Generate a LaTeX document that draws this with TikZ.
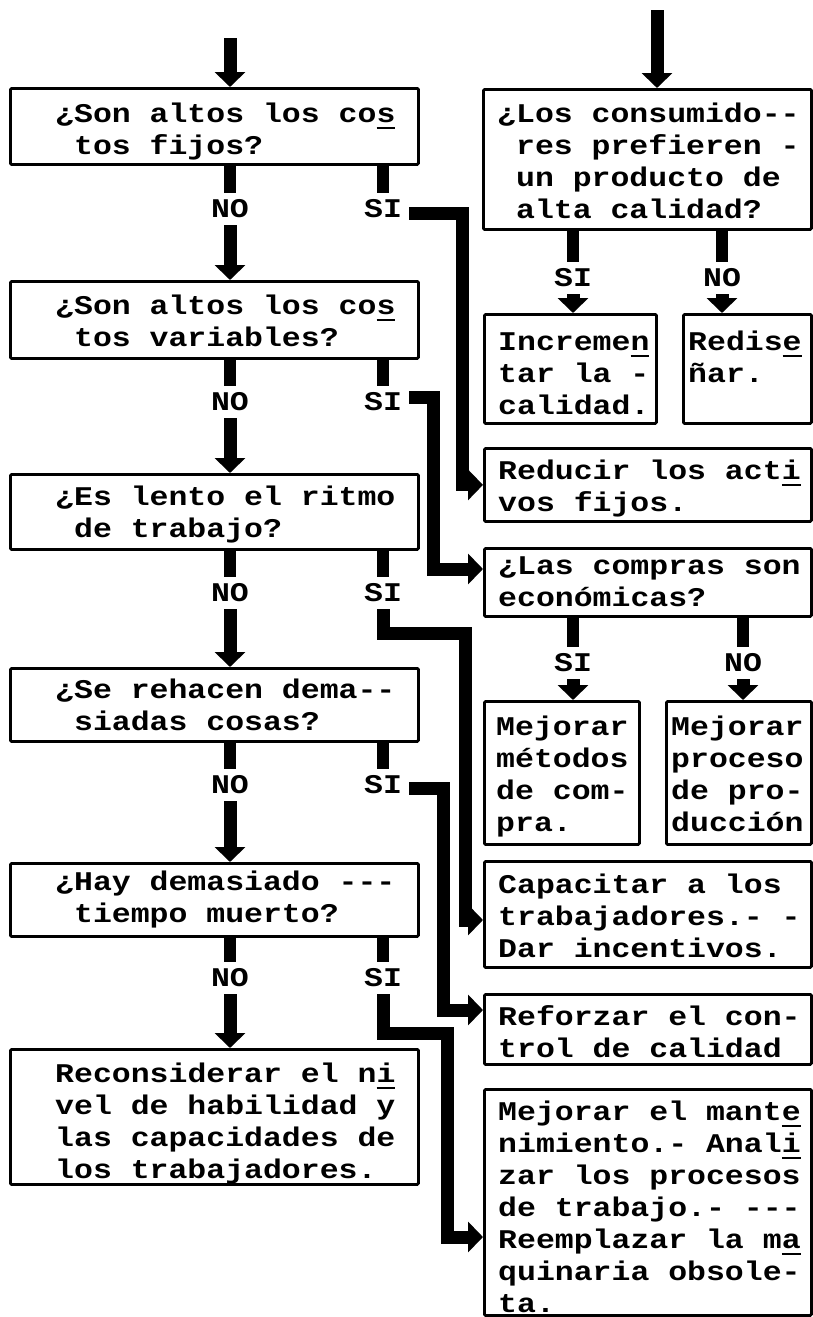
\documentclass[tikz,border=0pt]{standalone}
\usepackage{fontspec}
\newfontfamily\tw{Liberation Mono}[FakeStretch=1.1667]
\usetikzlibrary{arrows.meta,calc}
\newcommand\hyul[1]{\rlap{\rule[-7pt]{18.9pt}{2.5pt}}#1}
\newcommand\ind{\hspace*{18.9pt}}
\newcommand\sw{\hspace*{18.9pt}}
\newcommand\twfont{\tw\bfseries\fontsize{27}{32}\selectfont\hyphenpenalty=10000\relax}
\begin{document}
\begin{tikzpicture}[x=1pt,y=-1pt,
  box/.style={draw=black,line width=2.8pt,inner sep=0pt,anchor=north west,rounded corners=1.2pt},
  txt/.style={font=\twfont,anchor=base west,inner sep=0pt,text width=380pt,align=left},
  lab/.style={font=\twfont,inner xsep=7pt,inner ysep=7pt},
  conn/.style={line width=13pt,line join=miter,-{Triangle[width=30pt,length=15pt]}},
  stub/.style={line width=12pt,line cap=butt}]
\useasboundingbox (0,0) rectangle (813,1317);
\path[fill=white] (0,0) rectangle (813,1317);
% left boxes
\node[box,minimum width=408pt,minimum height=76pt] (L1) at (9,87) {};
\node[box,minimum width=408pt,minimum height=77pt] (L2) at (9,280) {};
\node[box,minimum width=408pt,minimum height=75pt] (L3) at (9,473) {};
\node[box,minimum width=408pt,minimum height=73pt] (L4) at (9,667) {};
\node[box,minimum width=408pt,minimum height=73pt] (L5) at (9,862) {};
\node[box,minimum width=408pt,minimum height=135pt] (L6) at (9,1048) {};
% right boxes
\node[box,minimum width=328pt,minimum height=140pt] (R1) at (482,88) {};
\node[box,minimum width=172pt,minimum height=109pt] (R2a) at (483,313) {};
\node[box,minimum width=128pt,minimum height=109pt] (R2b) at (682,313) {};
\node[box,minimum width=327pt,minimum height=73pt] (R3) at (483,447) {};
\node[box,minimum width=327pt,minimum height=68pt] (R4) at (483,547) {};
\node[box,minimum width=155pt,minimum height=143pt] (R5a) at (483,700) {};
\node[box,minimum width=145pt,minimum height=143pt] (R5b) at (665,700) {};
\node[box,minimum width=327pt,minimum height=106pt] (R6) at (483,860) {};
\node[box,minimum width=327pt,minimum height=70pt] (R7) at (483,993) {};
\node[box,minimum width=327pt,minimum height=226pt] (R8) at (483,1088) {};
% texts
\node[txt] (L1t) at (55,122) {¿Son\sw altos\sw los\sw co\hyul{s}\\\ind tos\sw fijos?};
\node[txt] (L2t) at (55,314) {¿Son\sw altos\sw los\sw co\hyul{s}\\\ind tos\sw variables?};
\node[txt] (L3t) at (55,505) {¿Es\sw lento\sw el\sw ritmo\\\ind de\sw trabajo?};
\node[txt] (L4t) at (55,698) {¿Se\sw rehacen\sw dema-{}-\\\ind siadas\sw cosas?};
\node[txt] (L5t) at (55,890) {¿Hay\sw demasiado\sw -{}-{}-\\\ind tiempo\sw muerto?};
\node[txt] (L6t) at (55,1082) {Reconsiderar\sw el\sw n\hyul{i}\\vel\sw de\sw habilidad\sw y\\las\sw capacidades\sw de\\los\sw trabajadores.};
\node[txt] (R1t) at (497,122) {¿Los\sw consumido-{}-\\\ind res\sw prefieren\sw -\\\ind un\sw producto\sw de\\\ind alta\sw calidad?};
\node[txt] (R2at) at (498,350) {Increme\hyul{n}\\tar\sw la\sw -\\calidad.};
\node[txt] (R2bt) at (688,350) {Redis\hyul{e}\\ñar.};
\node[txt] (R3t) at (498,479) {Reducir\sw los\sw act\hyul{i}\\vos\sw fijos.};
\node[txt] (R4t) at (498,574) {¿Las\sw compras\sw son\\económicas?};
\node[txt] (R5at) at (496,735) {Mejorar\\métodos\\de\sw com-\\pra.};
\node[txt] (R5bt) at (671,735) {Mejorar\\proceso\\de\sw pro-\\ducción};
\node[txt] (R6t) at (498,893) {Capacitar\sw a\sw los\\trabajadores.-\sw -\\Dar\sw incentivos.};
\node[txt] (R7t) at (498,1025) {Reforzar\sw el\sw con-\\trol\sw de\sw calidad};
\node[txt] (R8t) at (498,1120) {Mejorar\sw el\sw mant\hyul{e}\\nimiento.-\sw Anal\hyul{i}\\zar\sw los\sw procesos\\de\sw trabajo.-\sw -{}-{}-\\Reemplazar\sw la\sw m\hyul{a}\\quinaria\sw obsole-\\ta.};
% labels
\node[lab] (NO1) at (230,209) {NO};
\node[lab] (SI1) at (383,209) {SI};
\node[lab] (NO2) at (230,402) {NO};
\node[lab] (SI2) at (383,402) {SI};
\node[lab] (NO3) at (230,593) {NO};
\node[lab] (SI3) at (383,593) {SI};
\node[lab] (NO4) at (230,785) {NO};
\node[lab] (SI4) at (383,785) {SI};
\node[lab] (NO5) at (230,978) {NO};
\node[lab] (SI5) at (383,978) {SI};
\node[lab] (RSI1) at (573,278) {SI};
\node[lab] (RNO1) at (722,278) {NO};
\node[lab] (RSI2) at (573,663) {SI};
\node[lab] (RNO2) at (743,663) {NO};
% top arrows
\coordinate (t1) at (230,38);
\coordinate (t2) at (657,10);
\draw[conn] (t1) -- (t1 |- L1.north);
\draw[conn] (t2) -- (t2 |- R1.north);
% stubs
\foreach \b/\n/\s in {L1/NO1/SI1,L2/NO2/SI2,L3/NO3/SI3,L4/NO4/SI4,L5/NO5/SI5,R1/RSI1/RNO1,R4/RSI2/RNO2}{
  \draw[stub] (\b.south -| \n) -- (\n.north);
  \draw[stub] (\b.south -| \s) -- (\s.north);
}
% NO chain
\draw[conn] (NO1.south) -- (NO1.south |- L2.north);
\draw[conn] (NO2.south) -- (NO2.south |- L3.north);
\draw[conn] (NO3.south) -- (NO3.south |- L4.north);
\draw[conn] (NO4.south) -- (NO4.south |- L5.north);
\draw[conn] (NO5.south) -- (NO5.south |- L6.north);
\draw[conn] (RSI1.south) -- (RSI1.south |- R2a.north);
\draw[conn] (RNO1.south) -- (RNO1.south |- R2b.north);
\draw[conn] (RSI2.south) -- (RSI2.south |- R5a.north);
\draw[conn] (RNO2.south) -- (RNO2.south |- R5b.north);
% SI connectors
\draw[conn] ([yshift=-4pt]SI1.east) -- ++(53,0) |- (R3.west);
\draw[conn] ([yshift=5pt]SI2.east) -- ++(24,0) |- ($(R4.north west)+(0,22)$);
\coordinate (c3) at (465,633);
\draw[conn] (SI3.south) |- (c3) |- ($(R6.north west)+(0,60)$);
\draw[conn] ([yshift=-3pt]SI4.east) -- ++(34,0) |- ($(R7.north west)+(0,17)$);
\coordinate (c5) at (447,1033);
\draw[conn] (SI5.south) |- (c5) |- ($(R8.north west)+(0,149)$);
\end{tikzpicture}
\end{document}
